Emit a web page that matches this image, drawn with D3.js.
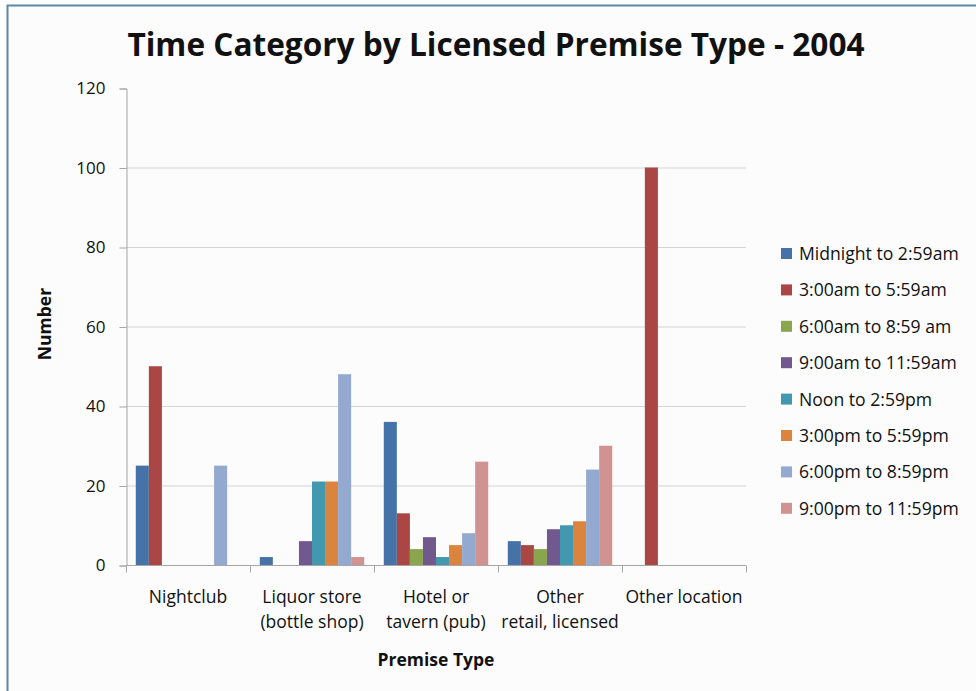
<!DOCTYPE html>
<html>
<head>
<meta charset="utf-8">
<script src="https://cdn.jsdelivr.net/npm/d3@7"></script>
<style>
  html, body { margin: 0; padding: 0; background: #ffffff; }
  svg { display: block; }
  text { font-family: "Open Sans", Lato, sans-serif; fill: #111; }
</style>
</head>
<body>
<svg id="chart" width="976" height="691"></svg>
<script>
// Premise types (x categories), with line breaks for the axis labels
const premiseTypes = ["Nightclub", "Liquor store\n(bottle shop)", "Hotel or\ntavern (pub)", "Other\nretail, licensed", "Other location"];

// Time-of-day series
const timeCategories = [
  "Midnight to 2:59am",
  "3:00am to 5:59am",
  "6:00am to 8:59 am",
  "9:00am to 11:59am",
  "Noon to 2:59pm",
  "3:00pm to 5:59pm",
  "6:00pm to 8:59pm",
  "9:00pm to 11:59pm"
];

// Counts per time category, one value per premise type
const midnightTo259am = [25, 2, 36, 6, 0];
const am300To559 = [50, 0, 13, 5, 100];
const am600To859 = [0, 0, 4, 4, 0];
const am900To1159 = [0, 6, 7, 9, 0];
const noonTo259pm = [0, 21, 2, 10, 0];
const pm300To559 = [0, 21, 5, 11, 0];
const pm600To859 = [25, 48, 8, 24, 0];
const pm900To1159 = [0, 2, 26, 30, 0];

const seriesValues = [midnightTo259am, am300To559, am600To859, am900To1159,
                      noonTo259pm, pm300To559, pm600To859, pm900To1159];

const yTicks = [0, 20, 40, 60, 80, 100, 120];

const colors = ["#4572A7", "#AA4643", "#89A54E", "#71588F", "#4198AF", "#DB843D", "#93A9CF", "#D19392"];

const svg = d3.select("#chart");

// Frame of the chart panel
svg.append("rect").attr("x", 7.5).attr("y", 5.5).attr("width", 976).attr("height", 700)
  .attr("fill", "#fcfcfc").attr("stroke", "#5a8aa6").attr("stroke-width", 2);

const plot = { left: 126, right: 746, top: 88, bottom: 565 };

const x0 = d3.scaleBand().domain(premiseTypes).range([plot.left, plot.right]).paddingInner(0).paddingOuter(0);
const groupPad = x0.bandwidth() * 1.5 / 9.5 / 2; // 150% gap width between clusters
const x1 = d3.scaleBand().domain(d3.range(timeCategories.length))
  .range([groupPad, x0.bandwidth() - groupPad]).padding(0);
const y = d3.scaleLinear().domain([0, 120]).range([plot.bottom, plot.top]);

// Horizontal gridlines
svg.append("g").selectAll("line").data(yTicks.filter(t => t > 0 && t < 120)).join("line")
  .attr("x1", plot.left).attr("x2", plot.right)
  .attr("y1", d => y(d) + 0.5).attr("y2", d => y(d) + 0.5)
  .attr("stroke", "#d4d4d4").attr("stroke-width", 1);

// Bars
const groups = svg.append("g").selectAll("g").data(premiseTypes).join("g")
  .attr("transform", d => `translate(${x0(d)},0)`);
groups.selectAll("rect")
  .data((d, i) => seriesValues.map((vals, s) => ({ s, v: vals[i] })))
  .join("rect")
  .attr("x", d => x1(d.s))
  .attr("width", x1.bandwidth())
  .attr("y", d => y(d.v))
  .attr("height", d => y(0) - y(d.v))
  .attr("fill", d => colors[d.s]);

// Y axis
const yAxis = d3.axisLeft(y).tickValues(yTicks).tickSize(7).tickPadding(14);
const gy = svg.append("g").attr("transform", `translate(${plot.left + 0.5},0.5)`).call(yAxis);
gy.select(".domain").attr("stroke", "#a6a6a6");
gy.selectAll(".tick line").attr("stroke", "#a6a6a6");
gy.selectAll(".tick text").attr("font-size", 17).attr("font-family", "'Open Sans', sans-serif").attr("fill", "#111");

// X axis with ticks at category boundaries
const gx = svg.append("g").attr("transform", `translate(0,${plot.bottom + 0.5})`);
gx.append("line").attr("x1", plot.left).attr("x2", plot.right).attr("stroke", "#a6a6a6");
const bounds = premiseTypes.map(d => x0(d)).concat([plot.right]);
gx.selectAll("line.tk").data(bounds).join("line").attr("class", "tk")
  .attr("x1", d => Math.round(d) + 0.5).attr("x2", d => Math.round(d) + 0.5)
  .attr("y1", 0).attr("y2", 7).attr("stroke", "#a6a6a6");
gx.selectAll("text").data(premiseTypes).join("text")
  .attr("text-anchor", "middle")
  .attr("font-size", 17.5)
  .attr("transform", d => `translate(${x0(d) + x0.bandwidth() / 2},37)`)
  .each(function (d) {
    d.split("\n").forEach((line, i) => {
      d3.select(this).append("tspan").attr("x", 0).attr("y", i * 25).text(line);
    });
  });

// Titles
svg.append("text").attr("x", 496).attr("y", 56).attr("text-anchor", "middle")
  .attr("font-size", 31.6).attr("font-weight", "bold").text("Time Category by Licensed Premise Type - 2004");
svg.append("text").attr("x", 436).attr("y", 666).attr("text-anchor", "middle")
  .attr("font-size", 17.5).attr("font-weight", "bold").text("Premise Type");
svg.append("text").attr("transform", "translate(51,324) rotate(-90)").attr("text-anchor", "middle")
  .attr("font-size", 17.5).attr("font-weight", "bold").text("Number");

// Legend
const legend = svg.append("g").attr("transform", "translate(781,254)");
const items = legend.selectAll("g").data(timeCategories).join("g")
  .attr("transform", (d, i) => `translate(0,${i * 36.4})`);
items.append("rect").attr("x", 0).attr("y", -6).attr("width", 11).attr("height", 11)
  .attr("fill", (d, i) => colors[i]);
items.append("text").attr("x", 18).attr("y", 6).attr("font-size", 17.6).text(d => d);
</script>
</body>
</html>
